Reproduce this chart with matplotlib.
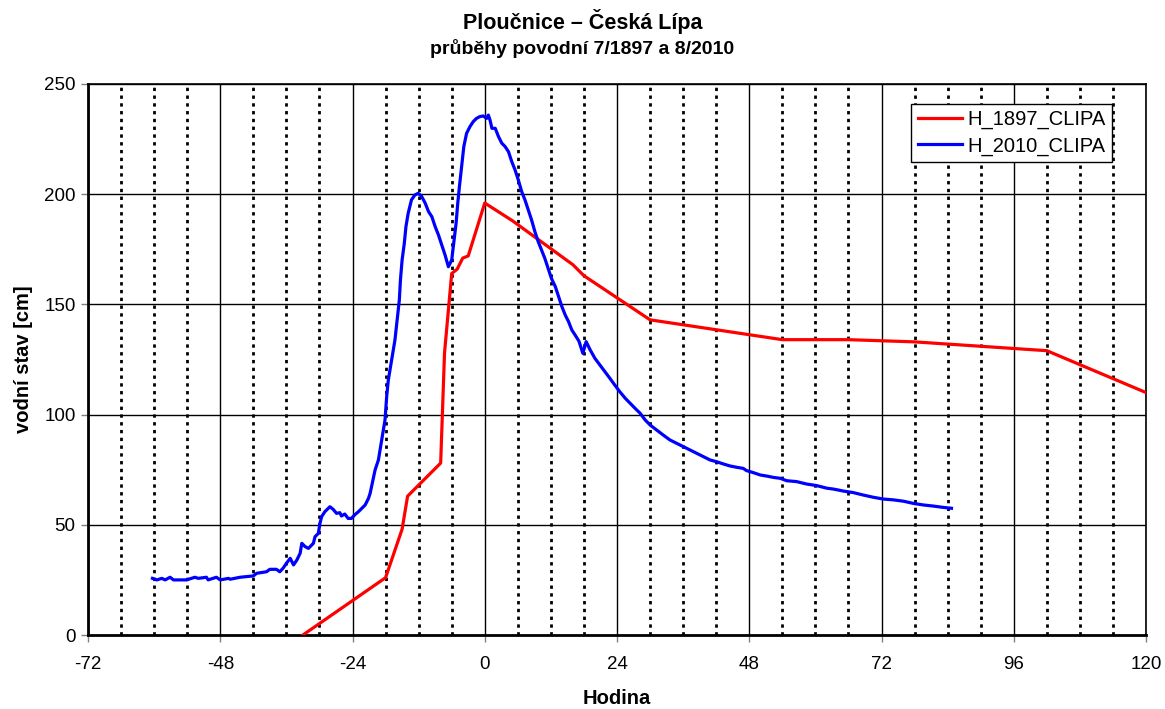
import matplotlib
matplotlib.use("Agg")
import matplotlib.pyplot as plt
import numpy as np

plt.rcParams['font.family'] = ['Liberation Sans', 'DejaVu Sans']
plt.rcParams['axes.unicode_minus'] = False

# H_1897_CLIPA - hodina, vodni stav [cm]
h1897 = [-33, -18, -15, -14, -8, -7.3, -6, -5, -4, -3, 0, 5, 16, 18, 30, 54, 66, 78, 102, 120]
v1897 = [0, 26, 48, 63, 78, 128, 164, 166, 171, 172, 196, 188, 168, 163, 143, 134, 134, 133, 129, 110]

# H_2010_CLIPA
h2010 = [-60.3, -59.5, -58.6, -58.0, -57.1, -56.5, -54.1, -52.6, -52.0, -50.5, -50.2, -48.7,
         -48.0, -46.5, -46.2, -44.4, -42.0, -41.4, -39.6, -39.0, -37.8, -37.2, -36.6, -36.0,
         -35.3, -34.7, -34.1, -33.5, -33.2, -32.6, -32.0, -31.4, -31.1, -30.8, -30.2, -29.9,
         -29.6, -29.0, -28.1, -27.5, -26.9, -26.3, -26.0, -25.4, -24.8, -24.2, -23.6, -22.9,
         -22.3, -21.7, -21.1, -20.8, -19.9, -19.3, -18.7, -18.1, -17.8, -17.5, -16.9, -16.3,
         -15.9, -15.5, -15.3, -15.0, -14.6, -14.3, -13.9, -13.3, -12.7, -12.1, -11.5, -10.8,
         -10.2, -9.6, -9.0, -8.4, -7.8, -7.2, -6.6, -6.0, -5.6, -5.2, -4.9, -4.6, -4.2, -3.8,
         -3.3, -2.7, -2.1, -1.5, -0.9, -0.3, 0.35, 0.65, 0.95, 1.3, 1.9, 2.5, 3.1, 3.7, 4.3,
         4.9, 5.5, 6.1, 6.7, 7.3, 7.9, 8.5, 9.1, 9.7, 10.3, 10.9, 11.5, 12.1, 12.8, 13.4, 14.0,
         14.6, 15.2, 15.8, 16.4, 17.1, 17.8, 18.4, 19.1, 20.0, 20.9, 21.8, 22.7, 23.6, 24.5,
         25.5, 26.4, 27.3, 28.2, 29.1, 30.0, 31.2, 32.4, 33.6, 34.8, 36.0, 37.3, 38.5, 39.7,
         40.9, 42.1, 43.3, 44.5, 45.7, 46.9, 47.5, 48.7, 50.0, 51.2, 52.4, 53.6, 54.8, 56.6,
         58.4, 60.2, 62.1, 63.3, 65.1, 66.9, 68.7, 70.5, 72.3, 74.2, 76.0, 77.8, 79.6, 81.4,
         83.2, 84.7]
v2010 = [25.7, 25.0, 25.7, 25.0, 26.2, 25.0, 25.0, 26.2, 25.7, 26.2, 25.0, 26.2,
         25.0, 25.7, 25.3, 26.2, 26.8, 28.0, 28.7, 29.8, 29.8, 28.7, 30.3, 32.5,
         34.8, 31.8, 34.0, 37.1, 41.6, 40.1, 39.3, 40.8, 41.6, 44.6, 46.1, 50.7,
         53.7, 56.0, 58.2, 57.0, 55.2, 55.5, 54.0, 54.9, 52.9, 52.9, 54.5, 56.0,
         57.5, 59.0, 62.0, 64.3, 74.9, 79.4, 88.5, 97.6, 108.1, 115.7, 124.8, 133.8,
         142.9, 152.0, 161.1, 170.1, 177.7, 185.3, 191.3, 197.4, 199.6, 200.4, 199.2, 195.9,
         192.1, 189.8, 185.3, 181.5, 177.0, 172.4, 167.1, 170.1, 178.5, 186.8, 195.9, 203.4, 212.5, 221.6,
         227.6, 230.6, 232.9, 234.4, 235.2, 235.5, 234.4, 235.9, 233.7, 229.9, 229.9, 226.1, 223.1, 221.6, 219.3,
         214.8, 211.0, 206.4, 201.2, 197.4, 192.8, 188.3, 183.0, 178.5, 174.7, 170.9, 166.4, 161.8, 158.1, 153.5, 149.0,
         145.2, 142.2, 138.4, 136.1, 133.3, 127.8, 133.1, 129.5, 125.5, 122.5, 119.5, 116.5, 113.4, 110.4,
         107.4, 105.1, 102.8, 100.6, 97.6, 95.3, 93.0, 90.7, 88.5, 87.0, 85.5, 83.9, 82.4, 80.9,
         79.4, 78.6, 77.6, 76.7, 76.1, 75.6, 74.6, 73.7, 72.6, 72.1, 71.5, 71.1, 70.0, 69.6,
         68.5, 67.8, 66.6, 66.2, 65.3, 64.6, 63.5, 62.5, 61.7, 61.3, 60.7, 59.7, 59.0, 58.5,
         57.9, 57.5]

x_ticks = list(range(-72, 121, 24))
y_ticks = list(range(0, 251, 50))

fig = plt.figure(figsize=(11.65, 7.09), dpi=100)
ax = fig.add_axes([88/1165, 74/709, 1058/1165, 551/709])

# mrizka
for yy in y_ticks[1:]:
    ax.axhline(yy, color='black', lw=1.0, zorder=1)
for xx in range(-72, 121, 6):
    if xx % 24 == 0:
        ax.axvline(xx, color='black', lw=1.0, zorder=1)
    else:
        ax.axvline(xx, color='black', lw=2.0, ls=(0, (1.2, 1.6)), zorder=1)

ax.plot(h1897, v1897, color='#ff0000', lw=2.3, label='H_1897_CLIPA', zorder=3)
ax.plot(h2010, v2010, color='#0000ff', lw=2.3, label='H_2010_CLIPA', zorder=3)

ax.set_xlim(-72, 120)
ax.set_ylim(0, 250)
ax.set_xticks(x_ticks)
ax.set_yticks(y_ticks)
ax.tick_params(direction='out', length=5, width=1, labelsize=13.5, color='#808080')
ax.tick_params(axis='x', pad=10)
ax.tick_params(axis='y', pad=4)
for s in ax.spines.values():
    s.set_color('black')
    s.set_linewidth(1.2)
ax.spines['bottom'].set_linewidth(2)
ax.spines['left'].set_linewidth(2)

ax.set_xlabel('Hodina', fontsize=14.5, fontweight='bold', labelpad=12)
ax.set_ylabel('vodní stav [cm]', fontsize=14.5, fontweight='bold', labelpad=8)

fig.text(0.5, 1 - 22/709, 'Ploučnice – Česká Lípa', ha='center', va='center',
         fontsize=15.5, fontweight='bold')
fig.text(0.5, 1 - 49/709, 'průběhy povodní 7/1897 a 8/2010', ha='center', va='center',
         fontsize=14, fontweight='bold')

leg = ax.legend(loc='upper right', bbox_to_anchor=(0.968, 0.9637), fontsize=14.5,
                frameon=True, fancybox=False, edgecolor='black', framealpha=1,
                handlelength=2.2, borderpad=0.3, labelspacing=0.35, handletextpad=0.3,
                borderaxespad=0)
leg.get_frame().set_linewidth(1.0)

fig.savefig('out.png', dpi=100)
